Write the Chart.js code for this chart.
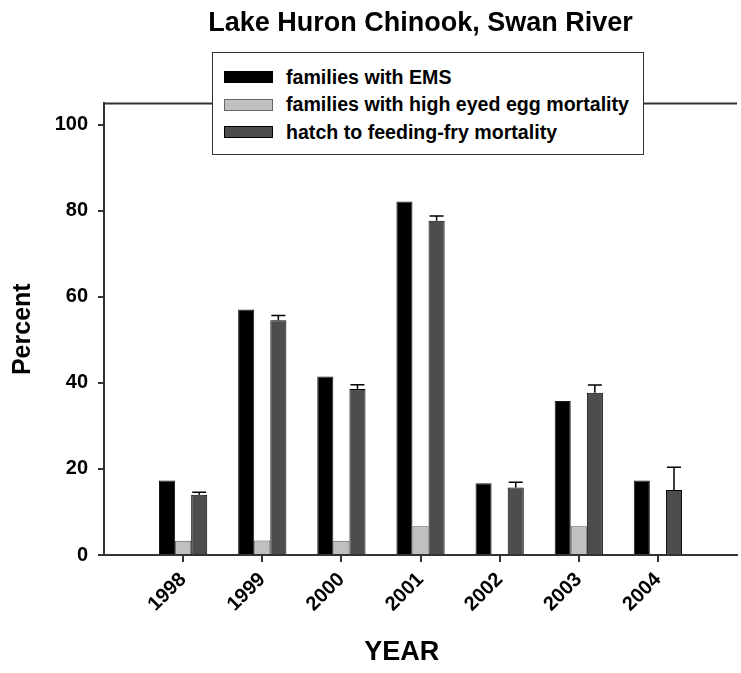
<!DOCTYPE html>
<html>
<head>
<meta charset="utf-8">
<script src="https://cdn.jsdelivr.net/npm/chart.js@4/dist/chart.umd.min.js"></script>
<style>
  html, body { margin: 0; padding: 0; background: #fff; overflow: hidden; }
  #wrap { position: relative; width: 741px; height: 673px; overflow: hidden; }
  canvas { position: absolute; left: 0; top: 0; }
  #legend {
    position: absolute; left: 212px; top: 52px; width: 432px; height: 103px;
    border: 1px solid #333; background: #fff; box-sizing: border-box;
    font-family: "Liberation Sans", Arial, sans-serif; font-weight: bold; font-size: 19.6px; color: #000;
  }
  .row { position: absolute; left: 11px; height: 20px; display: flex; align-items: center; white-space: nowrap; }
  .sw { width: 49px; height: 12px; box-sizing: border-box; border: 1px solid #000; margin-right: 13px; }
</style>
</head>
<body>
<div id="wrap">
  <canvas id="c" width="760" height="673"></canvas>
  <div id="legend"></div>
</div>
<script>
// ---- data ----
const years = ['1997', '1998', '1999', '2000', '2001', '2002', '2003', '2004', '2005'];
const emsFamilies = [null, 17.3, 57.1, 41.5, 82.2, 16.7, 35.8, 17.3, null];
const eyedEggMortality = [null, 3.3, 3.4, 3.3, 6.7, 0, 6.7, 0, null];
const hatchToFryMortality = [null, 14.0, 54.6, 38.6, 77.7, 15.7, 37.7, 15.1, null];
const hatchToFryError = [null, 0.6, 1.1, 1.0, 1.1, 1.2, 1.8, 5.3, null];
const seriesNames = ['families with EMS', 'families with high eyed egg mortality', 'hatch to feeding-fry mortality'];
const yTicks = [0, 20, 40, 60, 80, 100];

const FONT = '"Liberation Sans", Arial, sans-serif';
const AXIS = '#333333';

const frameAndErrors = {
  id: 'frameAndErrors',
  afterDatasetsDraw(chart) {
    const ctx = chart.ctx, a = chart.chartArea;
    const ys = chart.scales.y;
    const meta = chart.getDatasetMeta(2);
    ctx.save();
    ctx.strokeStyle = '#000';
    ctx.lineWidth = 1.5;
    meta.data.forEach((bar, i) => {
      const v = hatchToFryMortality[i], e = hatchToFryError[i];
      if (v == null || e == null) return;
      const yTop = ys.getPixelForValue(v + e);
      const yBar = ys.getPixelForValue(v);
      ctx.beginPath();
      ctx.moveTo(bar.x, yBar);
      ctx.lineTo(bar.x, yTop);
      ctx.moveTo(bar.x - 7, yTop);
      ctx.lineTo(bar.x + 7, yTop);
      ctx.stroke();
    });
    ctx.strokeStyle = AXIS;
    ctx.lineWidth = 2;
    ctx.beginPath();
    ctx.moveTo(a.left - 1, a.top);
    ctx.lineTo(a.right, a.top);
    ctx.stroke();
    ctx.restore();
  }
};

const chart = new Chart(document.getElementById('c'), {
  type: 'bar',
  data: {
    labels: years,
    datasets: [
      { label: seriesNames[0], data: emsFamilies, backgroundColor: '#000000', borderColor: '#1a1a1a', borderWidth: 1 },
      { label: seriesNames[1], data: eyedEggMortality, backgroundColor: '#c0c0c0', borderColor: '#555555', borderWidth: 1 },
      { label: seriesNames[2], data: hatchToFryMortality, backgroundColor: '#4d4d4d', borderColor: '#000000', borderWidth: 1 }
    ]
  },
  options: {
    responsive: false,
    animation: false,
    layout: { padding: { left: 0, right: 12, top: 0, bottom: 4 } },
    datasets: { bar: { categoryPercentage: 0.61, barPercentage: 1.0 } },
    plugins: {
      legend: { display: false },
      tooltip: { enabled: false },
      title: {
        display: true,
        fullSize: false,
        text: 'Lake Huron Chinook, Swan River',
        color: '#000',
        font: { family: FONT, size: 27, weight: 'bold' },
        padding: { top: 7, bottom: 64 }
      }
    },
    scales: {
      x: {
        type: 'category',
        offset: false,
        grid: {
          offset: false,
          drawOnChartArea: false, drawTicks: true, tickLength: 7, lineWidth: 2,
          color: (c) => (c.index === 0 || c.index === years.length - 1) ? 'rgba(0,0,0,0)' : AXIS
        },
        border: { display: true, color: AXIS, width: 2 },
        ticks: {
          color: '#000', font: { family: FONT, size: 20, weight: 'bold' },
          maxRotation: 45, minRotation: 45, padding: 6, autoSkip: false,
          callback: (v, i) => (i === 0 || i === years.length - 1) ? '' : years[i]
        },
        title: {
          display: true, text: 'YEAR     ', color: '#000',
          font: { family: FONT, size: 27, weight: 'bold' },
          padding: { top: 10, bottom: 0 }
        },
        afterFit: (s) => { s.height = 114; }
      },
      y: {
        min: 0, max: 105,
        afterBuildTicks: (s) => { s.ticks = yTicks.map(v => ({ value: v })); },
        grid: { drawOnChartArea: false, drawTicks: true, tickLength: 6, lineWidth: 2, color: AXIS },
        border: { display: true, color: AXIS, width: 2 },
        ticks: { color: '#000', font: { family: FONT, size: 20, weight: 'bold' }, padding: 10 },
        title: {
          display: true, text: 'Percent', color: '#000',
          font: { family: FONT, size: 25, weight: 'bold' },
          padding: { top: 8, bottom: 0 }
        },
        afterFit: (s) => { s.width = 104; }
      }
    }
  },
  plugins: [frameAndErrors]
});

// HTML legend built from datasets
const lg = document.getElementById('legend');
chart.data.datasets.forEach((ds, i) => {
  const row = document.createElement('div');
  row.className = 'row';
  row.style.top = (14 + i * 27.5) + 'px';
  const sw = document.createElement('div');
  sw.className = 'sw';
  sw.style.background = ds.backgroundColor;
  sw.style.borderColor = i === 1 ? '#666' : '#000';
  const tx = document.createElement('span');
  tx.textContent = ds.label;
  row.appendChild(sw); row.appendChild(tx);
  lg.appendChild(row);
});
</script>
</body>
</html>
